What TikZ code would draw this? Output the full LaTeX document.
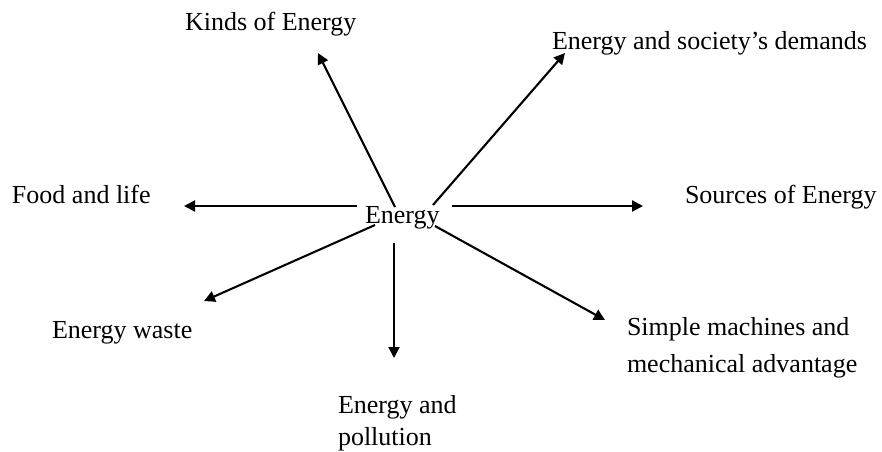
\documentclass[tikz,border=0pt]{standalone}
\usepackage{fontspec}
\setmainfont{Liberation Serif}
\usetikzlibrary{arrows.meta}
\begin{document}
\begin{tikzpicture}[x=1pt,y=-1pt,
  lbl/.style={inner sep=0pt,outer sep=0pt,anchor=base west,align=left,font=\fontsize{26}{34}\selectfont},
  conn/.style={line width=2.1pt,-{Triangle[length=11pt,width=11pt]}}]
\useasboundingbox (0,0) rectangle (882,451);
% labels (base = baseline of last line)
\node[lbl] (center) at (365,223) {Energy};
\node[lbl] (kinds) at (185,30) {Kinds of Energy};
\node[lbl] (society) at (552,49) {Energy and society’s demands};
\node[lbl] (food) at (12,203) {Food and life};
\node[lbl] (sources) at (685,203) {Sources of Energy};
\node[lbl] (waste) at (52,338) {Energy waste};
\node[lbl,font=\fontsize{26}{37}\selectfont] (machines) at (627,372) {Simple machines and\\mechanical advantage};
\node[lbl,font=\fontsize{26}{32}\selectfont] (pollution) at (338,445) {Energy and\\pollution};
% connector ends
\coordinate (t1) at (395,207); \coordinate (h1) at (318,53);
\coordinate (t2) at (433,205); \coordinate (h2) at (565,53);
\coordinate (t3) at (452,206); \coordinate (h3) at (643,206);
\coordinate (t4) at (357,206); \coordinate (h4) at (184,206);
\coordinate (t5) at (375,225); \coordinate (h5) at (204,301);
\coordinate (t6) at (394,243); \coordinate (h6) at (394,358);
\coordinate (t7) at (435,226); \coordinate (h7) at (605,320);
\draw[conn] (t1) -- (h1);
\draw[conn] (t2) -- (h2);
\draw[conn] (t3) -- (h3);
\draw[conn] (t4) -- (h4);
\draw[conn] (t5) -- (h5);
\draw[conn] (t6) -- (h6);
\draw[conn] (t7) -- (h7);
\end{tikzpicture}
\end{document}
